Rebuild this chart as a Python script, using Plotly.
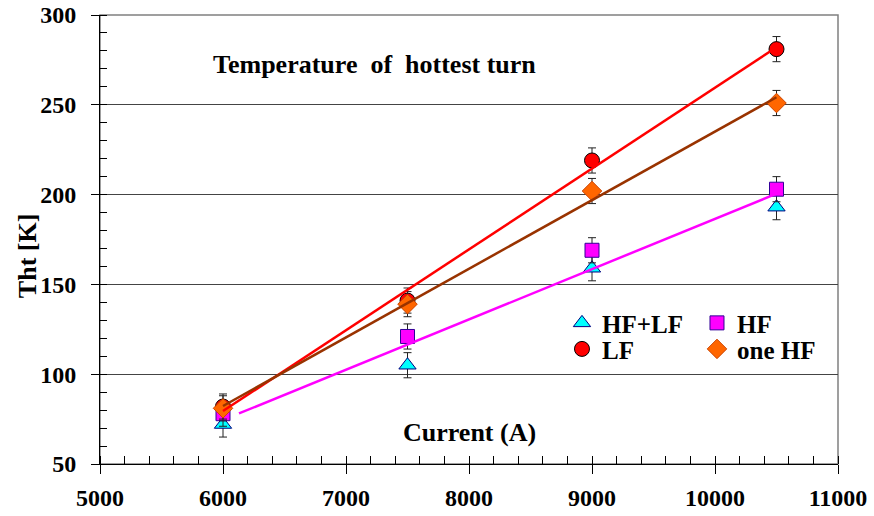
import numpy as np
import plotly.graph_objects as go

current = [6000, 7500, 9000, 10500]
t_hflf = [72, 105, 159, 193]
t_hf = [78, 121, 169, 203]
t_lf = [82, 141, 219, 281]
t_onehf = [81, 139, 202, 251]
err = [7, 7, 7, 7]

x_ticks = [5000, 6000, 7000, 8000, 9000, 10000, 11000]
y_ticks = [50, 100, 150, 200, 250, 300]

fit_lf_range = [6000, 10500]
fit_onehf_range = [6000, 10500]
fit_hf_range = [6130, 10500]

FONT = "Liberation Serif"

fig = go.Figure()

def eb(c):
    return dict(type="data", array=err, visible=True, color=c, thickness=1, width=4)

fig.add_trace(go.Scatter(x=current, y=t_hflf, mode="markers", name="<b>HF+LF</b>", legend="legend",
    marker=dict(symbol="triangle-up", size=15, color="#00FFFF", line=dict(color="#000080", width=1)),
    error_y=eb("#222222")))
fig.add_trace(go.Scatter(x=current, y=t_hf, mode="markers", name="<b>HF</b>", legend="legend",
    marker=dict(symbol="square", size=14, color="#FF00FF", line=dict(color="#330099", width=1)),
    error_y=eb("#222222")))
fig.add_trace(go.Scatter(x=current, y=t_lf, mode="markers", name="<b>LF</b>", legend="legend2",
    marker=dict(symbol="circle", size=15, color="#FF0000", line=dict(color="#000000", width=1)),
    error_y=eb("#222222")))
fig.add_trace(go.Scatter(x=current, y=t_onehf, mode="markers", name="<b>one HF</b>", legend="legend2",
    marker=dict(symbol="diamond", size=15, color="#FF6600", line=dict(color="#CC4400", width=1)),
    error_y=eb("#222222")))

def fit_line(xs, ys, rng):
    p = np.polyfit(xs, ys, 1)
    xr = np.array(rng, dtype=float)
    return xr, np.polyval(p, xr)

x1, y1 = fit_line(current, t_lf, fit_lf_range)
fig.add_trace(go.Scatter(x=x1, y=y1, mode="lines", line=dict(color="#FF0000", width=2.5), showlegend=False))
x2, y2 = fit_line(current, t_onehf, fit_onehf_range)
fig.add_trace(go.Scatter(x=x2, y=y2, mode="lines", line=dict(color="#993300", width=2.5), showlegend=False))
x3, y3 = fit_line(current + current, t_hf + t_hflf, fit_hf_range)
fig.add_trace(go.Scatter(x=x3, y=y3, mode="lines", line=dict(color="#FF00FF", width=2.5), showlegend=False))

legfont = dict(family=FONT, size=25, color="black")

fig.update_layout(
    width=874, height=516,
    margin=dict(l=100, r=36, t=15, b=52, autoexpand=False),
    paper_bgcolor="white", plot_bgcolor="white",
    font=dict(family=FONT, size=24, color="black"),
    xaxis=dict(range=[5000, 11000], tickmode="array", tickvals=x_ticks,
               ticktext=["<b>%d</b>" % v for v in x_ticks],
               showgrid=False, zeroline=False,
               showline=True, linecolor="black", linewidth=1,
               ticks="outside", ticklen=9, tickcolor="black",
               tickfont=dict(family=FONT, size=24),
               ticklabelstandoff=3, ticklabeloverflow="allow",
               minor=dict(tickmode="linear", tick0=5000, dtick=200, ticks="inside", ticklen=8,
                          tickcolor="black", showgrid=False)),
    yaxis=dict(range=[50, 300], tickmode="array", tickvals=y_ticks,
               ticktext=["<b>%d</b>" % v for v in y_ticks],
               showgrid=True, gridcolor="#444444", gridwidth=1,
               zeroline=False, showline=True, linecolor="black", linewidth=1,
               ticks="outside", ticklen=8, tickcolor="black",
               tickfont=dict(family=FONT, size=24),
               ticklabelstandoff=10, ticklabeloverflow="allow",
               minor=dict(tickmode="linear", tick0=50, dtick=10, ticks="inside", ticklen=7,
                          tickcolor="black", showgrid=False)),
    legend=dict(orientation="h", x=0.626, y=0.365, xanchor="left", yanchor="top",
                entrywidth=90, entrywidthmode="pixels", bgcolor="rgba(0,0,0,0)",
                font=legfont, itemwidth=30, traceorder="normal"),
    legend2=dict(orientation="h", x=0.626, y=0.307, xanchor="left", yanchor="top",
                entrywidth=90, entrywidthmode="pixels", bgcolor="rgba(0,0,0,0)",
                font=legfont, itemwidth=30, traceorder="normal"),
    shapes=[dict(type="rect", xref="paper", yref="paper", x0=0, y0=0, x1=1, y1=1,
                 line=dict(color="#808080", width=1.5), layer="below")],
    annotations=[
        dict(text="<b>Temperature  of  hottest turn</b>", xref="paper", yref="paper",
             x=0.3726, y=0.889, xanchor="center", yanchor="middle",
             showarrow=False, font=dict(family=FONT, size=26)),
        dict(text="<b>Current (A)</b>", xref="paper", yref="paper",
             x=0.501, y=0.071, xanchor="center", yanchor="middle",
             showarrow=False, font=dict(family=FONT, size=26)),
        dict(text="<b>Tht [K]</b>", xref="paper", yref="paper", textangle=-90,
             x=-0.099, y=0.465, xanchor="center", yanchor="middle",
             showarrow=False, font=dict(family=FONT, size=26)),
    ],
)

fig.write_html("out.html", config={"displayModeBar": False},
               post_script="document.body.style.margin='0';")
